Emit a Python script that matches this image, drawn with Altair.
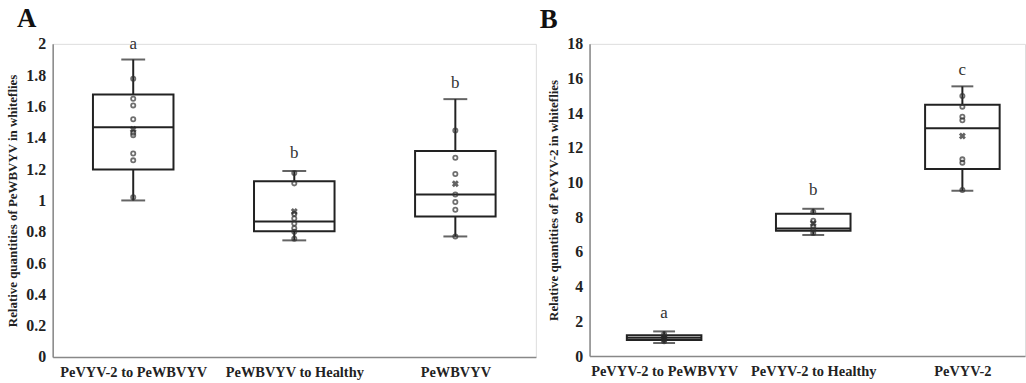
import altair as alt
import pandas as pd

FONT = "Liberation Serif"
INK = "#222222"

# ---- Panel A data ----
cats_a = ["PeVYV-2 to PeWBVYV", "PeWBVYV to Healthy", "PeWBVYV"]
min_a = [1.00, 0.745, 0.77]
q1_a = [1.197, 0.803, 0.897]
med_a = [1.468, 0.865, 1.038]
q3_a = [1.677, 1.122, 1.316]
max_a = [1.90, 1.188, 1.647]
mean_a = [1.455, 0.93, 1.107]
pts_a = [
    [1.777, 1.65, 1.607, 1.519, 1.433, 1.417, 1.30, 1.256, 1.02],
    [1.175, 1.109, 0.914, 0.885, 0.853, 0.823, 0.80, 0.756],
    [1.446, 1.273, 1.169, 1.038, 0.99, 0.94, 0.77],
]
sig_a = ["a", "b", "b"]
sig_y_a = [2.0, 1.30, 1.75]

# ---- Panel B data ----
cats_b = ["PeVYV-2 to PeWBVYV", "PeVYV-2 to Healthy", "PeVYV-2"]
min_b = [0.75, 6.98, 9.53]
q1_b = [0.92, 7.22, 10.78]
med_b = [1.06, 7.35, 13.14]
q3_b = [1.20, 8.21, 14.49]
max_b = [1.42, 8.49, 15.55]
mean_b = [1.02, 7.65, 12.69]
pts_b = [
    [1.25, 1.1, 1.0, 0.95, 0.85],
    [8.3, 7.8, 7.45, 7.3, 7.1],
    [15.0, 14.38, 13.8, 13.6, 11.34, 11.15, 9.57],
]
sig_b = ["a", "b", "c"]
sig_y_b = [2.47, 9.57, 16.5]


def panel(cats, mn, q1, med, q3, mx, mean, pts, sig, sig_y,
          ymax, ystep, xdom, width, height, ytitle, letter, cap, dx):
    stats = pd.DataFrame({
        "cat": cats, "idx": list(range(len(cats))),
        "min": mn, "q1": q1, "med": med, "q3": q3, "max": mx,
        "mean": mean, "sig": sig, "sig_y": sig_y,
    })
    points = pd.DataFrame(
        [{"idx": i, "v": v} for i, vals in enumerate(pts) for v in vals]
    )
    labexpr = " : ".join(
        f"datum.value == {i} ? '{c}'" for i, c in enumerate(cats)
    ) + " : ''"
    xs = alt.Scale(domain=xdom, nice=False, zero=False)
    ys = alt.Scale(domain=[0, ymax], nice=False)
    xax = alt.Axis(values=list(range(len(cats))), labelExpr=labexpr,
                   title=None, grid=False, ticks=False, labelFont=FONT,
                   labelFontWeight="bold", labelFontSize=14.5, labelColor=INK,
                   labelPadding=9, labelOverlap=False,
                   domainColor="#888888", domainWidth=1.5)
    yax = alt.Axis(values=[round(i * ystep, 4) for i in range(int(round(ymax / ystep)) + 1)],
                   format="~g", title=ytitle, grid=False, ticks=False,
                   labelFont=FONT, labelFontWeight="bold", labelFontSize=16,
                   labelColor=INK, labelPadding=7, labelOverlap=False,
                   labelBound=False, labelFlush=False,
                   titleFont=FONT, titleFontWeight="bold", titleFontSize=13,
                   titleColor=INK, titlePadding=6,
                   domainColor="#888888", domainWidth=1.5)

    def X(f):
        return alt.X(f, scale=xs, axis=xax)

    def Y(f):
        return alt.Y(f, scale=ys, axis=yax)

    base = alt.Chart(stats).transform_calculate(
        lo="datum.idx - 0.25", hi="datum.idx + 0.25")
    whisk_lo = base.mark_rule(color=INK, strokeWidth=2).encode(
        x=X("idx:Q"), y=Y("min:Q"), y2="q1:Q")
    whisk_hi = base.mark_rule(color=INK, strokeWidth=2).encode(
        x=X("idx:Q"), y=Y("q3:Q"), y2="max:Q")
    box = base.mark_bar(fill="white", stroke=INK, strokeWidth=2).encode(
        x=X("lo:Q"), x2="hi:Q", y=Y("q1:Q"), y2="q3:Q")
    median = base.mark_rule(color=INK, strokeWidth=2).encode(
        x=X("lo:Q"), x2="hi:Q", y=Y("med:Q"))
    cap_lo = base.mark_tick(color=INK, thickness=2, size=cap, orient="horizontal").encode(
        x=X("idx:Q"), y=Y("min:Q"))
    cap_hi = base.mark_tick(color=INK, thickness=2, size=cap, orient="horizontal").encode(
        x=X("idx:Q"), y=Y("max:Q"))
    dots = alt.Chart(points).mark_point(
        shape="circle", filled=False, size=18, strokeWidth=1.8, color="#333333"
    ).encode(x=X("idx:Q"), y=Y("v:Q"))
    means = base.mark_point(shape="cross", angle=45, filled=True, size=50,
                            color=INK, strokeWidth=0).encode(
        x=X("idx:Q"), y=Y("mean:Q"))
    letters = base.mark_text(font=FONT, fontSize=17, color="#333333",
                             baseline="middle").encode(
        x=X("idx:Q"), y=Y("sig_y:Q"), text="sig:N")

    return alt.layer(whisk_lo, whisk_hi, box, median, cap_lo, cap_hi,
                     dots, means, letters).properties(
        width=width, height=height,
        title=alt.TitleParams(letter, anchor="start", frame="group",
                              font=FONT, fontSize=27, fontWeight="bold",
                              color="#111111", dx=dx, offset=2))


chart_a = panel(cats_a, min_a, q1_a, med_a, q3_a, max_a, mean_a, pts_a,
                sig_a, sig_y_a, 2.0, 0.2, [-0.5, 2.5], 486, 315,
                "Relative quantities of PeWBVYV in whiteflies", "A", 24, -36)
chart_b = panel(cats_b, min_b, q1_b, med_b, q3_b, max_b, mean_b, pts_b,
                sig_b, sig_y_b, 18, 2, [-0.5, 2.42], 438, 314,
                "Relative quantities of PeVYV-2 in whiteflies", "B", 22, -50)

chart = alt.hconcat(chart_a, chart_b, spacing=2).properties(
    padding={"left": 6, "top": 3, "right": 0, "bottom": 0}
).configure_view(stroke=None).configure(background="white")

chart.save("out.html", embed_options={"renderer": "svg", "actions": False})
